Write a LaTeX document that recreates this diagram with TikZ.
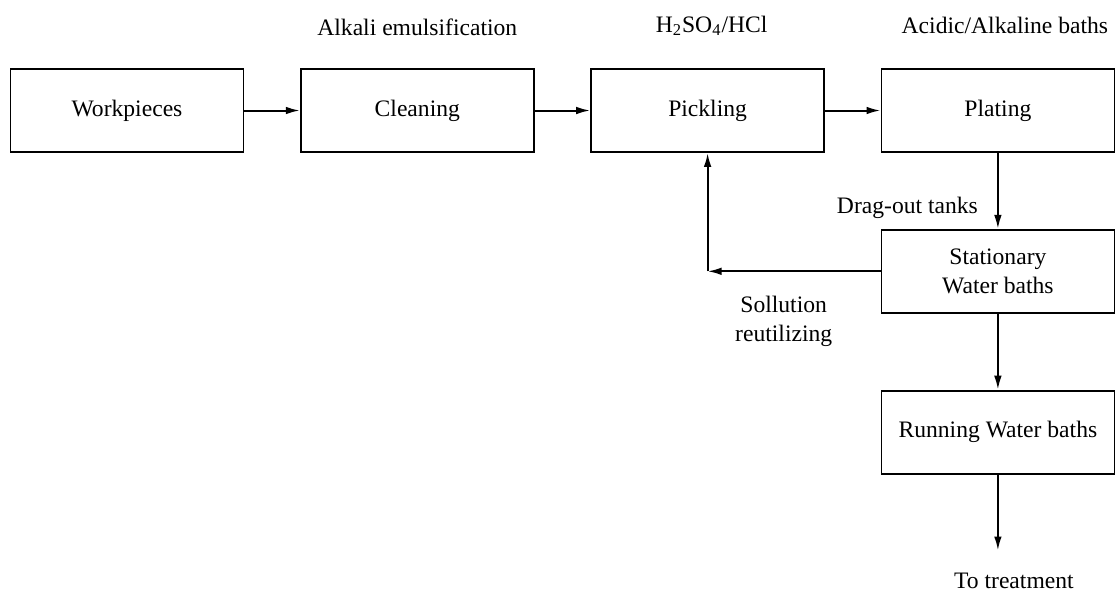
\documentclass[tikz,border=0pt]{standalone}
\usepackage{fontspec}
\setmainfont{Liberation Serif}
\usetikzlibrary{positioning,arrows.meta}
\tikzset{
  box/.style={draw=black,line width=0.9pt,align=center,
              minimum width=116.5pt,minimum height=41.5pt,inner sep=2pt},
  lbl/.style={align=center,inner sep=0pt},
  arr/.style={-{Latex[length=7pt,width=3.8pt]},line width=1pt}
}

\begin{document}
\begin{tikzpicture}[node distance=38pt and 27.75pt,font=\fontsize{11.8}{14.5}\selectfont]
  \useasboundingbox (0,0) rectangle (560pt,-300pt);
  \node[box] (work) at (63.5pt,-55.25pt) {Workpieces};
  \node[box,right=of work] (clean) {Cleaning};
  \node[box,right=of clean] (pick) {Pickling};
  \node[box,right=of pick] (plat) {Plating};
  \node[box,below=of plat] (stat) {Stationary\\Water baths};
  \node[box,below=of stat] (run) {Running Water baths};
  \coordinate[below=of run] (out);
  \coordinate (back) at (pick |- stat);

  \node[lbl,above=16pt of clean] (alk) {Alkali emulsification};
  \node[lbl,above=16pt of pick,xshift=2pt] (acid) {H\textsubscript{2}SO\textsubscript{4}/HCl};
  \node[lbl,above=17pt of plat,xshift=3.5pt] (bath) {Acidic/Alkaline baths};
  \node[lbl,below=11pt of out,xshift=8pt] (treat) {To treatment};

  \draw[arr] (work) -- (clean);
  \draw[arr] (clean) -- (pick);
  \draw[arr] (pick) -- (plat);
  \draw[arr] (plat) -- node[lbl,left=9.5pt,pos=0.72] (drag) {Drag-out tanks} (stat);
  \draw[arr] (stat) -- node[lbl,below=12pt,pos=0.56] (reuse) {Sollution\\reutilizing} (back);
  \draw[arr] (back) -- (pick);
  \draw[arr] (stat) -- (run);
  \draw[arr] (run) -- (out);
\end{tikzpicture}
\end{document}
